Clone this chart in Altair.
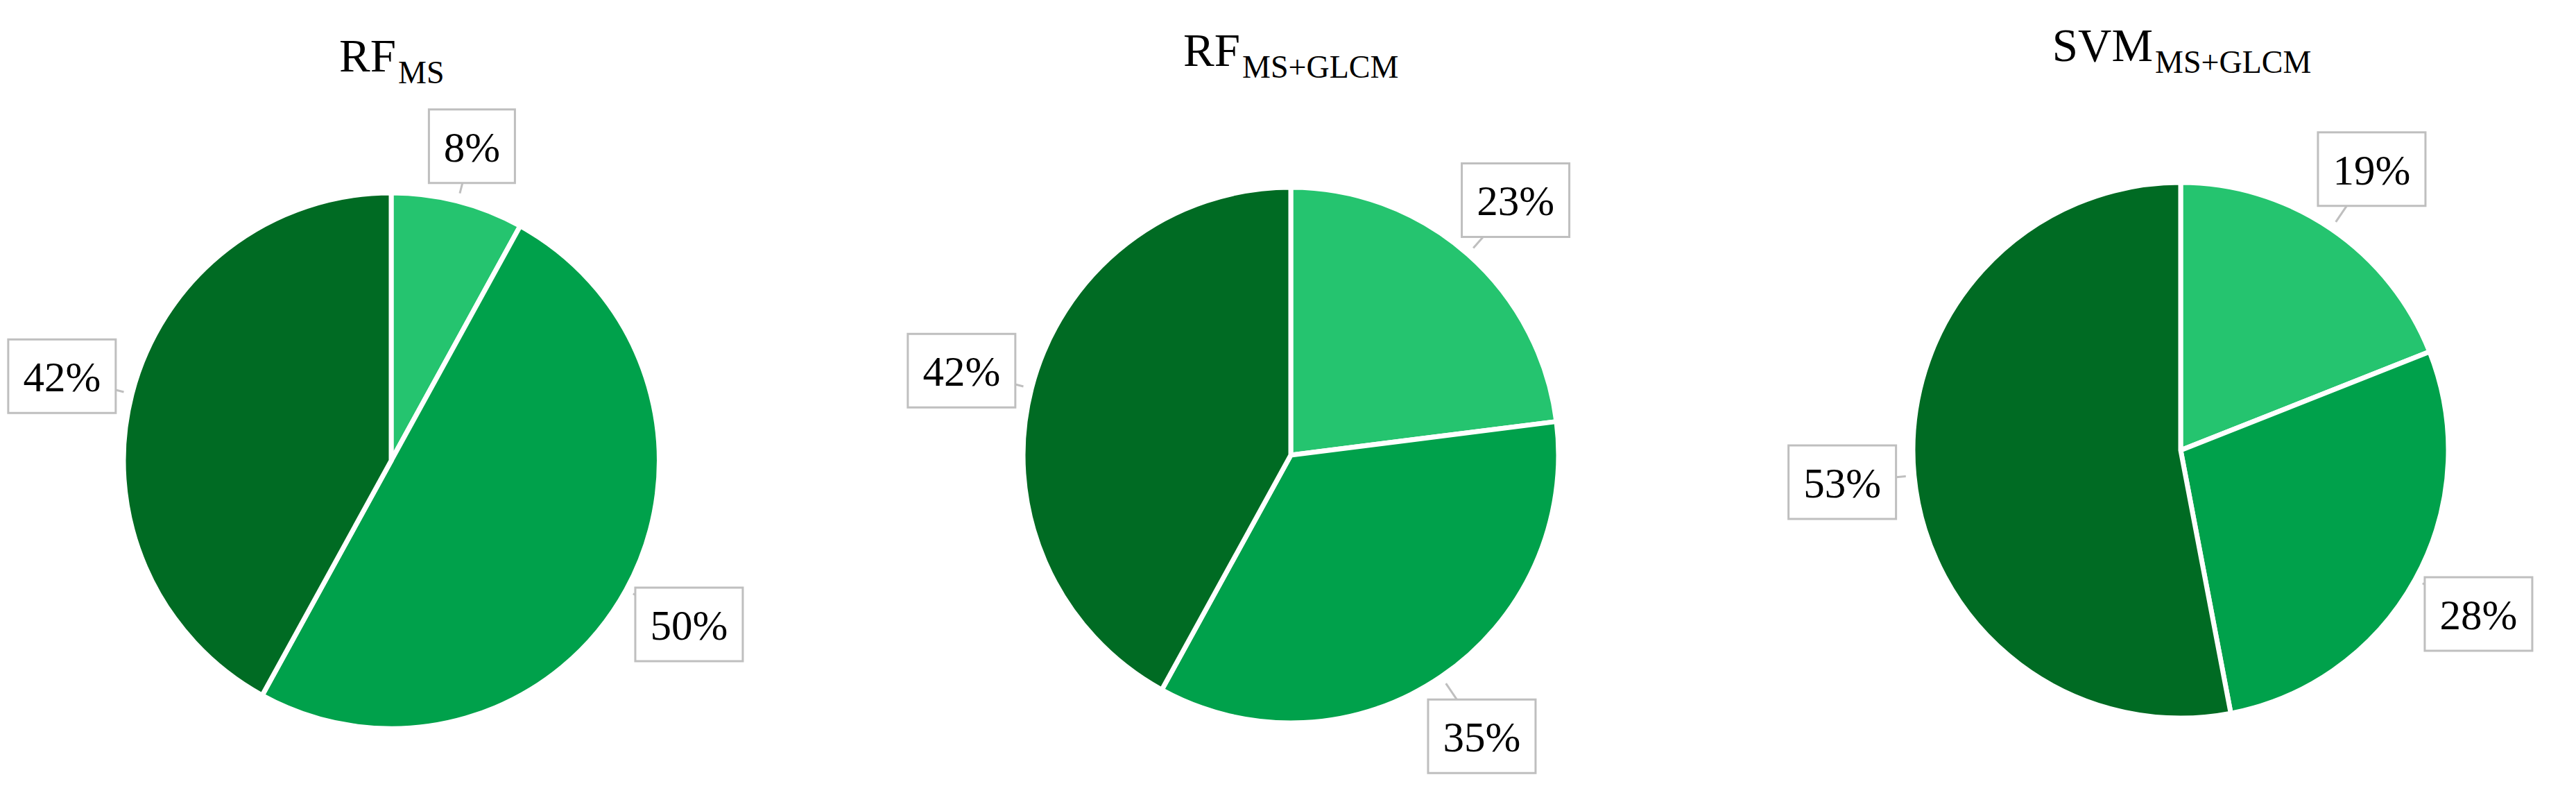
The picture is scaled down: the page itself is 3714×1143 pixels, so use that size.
import altair as alt
import pandas as pd

# ---- data ----
MODELS = ["RF", "RF", "SVM"]
SUBSCRIPTS = ["MS", "MS+GLCM", "MS+GLCM"]
CLASSES = ["Class 1", "Class 2", "Class 3"]
SHARES_RF_MS = [8, 50, 42]
SHARES_RF_MS_GLCM = [23, 35, 42]
SHARES_SVM_MS_GLCM = [19, 28, 53]
SHARES = [SHARES_RF_MS, SHARES_RF_MS_GLCM, SHARES_SVM_MS_GLCM]
COLORS = ["#25C46F", "#00A14B", "#006B23"]

# ---- layout ----
PANEL_W, PANEL_H = 1232, 1127
CX = [556, 621, 672]
CY = [656, 648, 641]
TITLE_SPLIT_DX = [7, -73, -40]
TITLE_ABOVE = 561
PIE_R = 386
TIP_R = 398
BOX_H = 106
FONT = "Liberation Serif"
BOX_STROKE = "#BFBFBF"


def panel(i):
    df = pd.DataFrame({
        "cls": CLASSES,
        "value": SHARES[i],
        "idx": list(range(len(CLASSES))),
    })
    cx, cy = CX[i], CY[i]

    arcs = alt.Chart(df).mark_arc(
        outerRadius=PIE_R, stroke="white", strokeWidth=7
    ).encode(
        theta=alt.Theta("value:Q", stack=True),
        color=alt.Color("cls:N", scale=alt.Scale(domain=CLASSES, range=COLORS), legend=None),
        order=alt.Order("idx:Q"),
        x=alt.value(cx),
        y=alt.value(cy),
    )

    lab = alt.Chart(df).transform_joinaggregate(
        total="sum(value)"
    ).transform_window(
        cum="sum(value)", sort=[alt.SortField("idx")], frame=[None, 0]
    ).transform_calculate(
        mid="2*PI*(datum.cum - datum.value/2)/datum.total"
    ).transform_calculate(
        label="format(datum.value, 'd') + '%'"
    ).transform_calculate(
        bw="62 + 31*length(datum.label)"
    ).transform_calculate(
        lr=f"{PIE_R - 6} + 0.71*datum.bw"
    ).transform_calculate(
        lx=f"{cx} + datum.lr*sin(datum.mid)"
    ).transform_calculate(
        ly=f"{cy} - datum.lr*cos(datum.mid)"
    ).transform_calculate(
        tx=f"{cx} + {TIP_R}*sin(datum.mid)"
    ).transform_calculate(
        ty=f"{cy} - {TIP_R}*cos(datum.mid)"
    ).transform_calculate(
        bx1="datum.lx - datum.bw/2"
    ).transform_calculate(
        bx2="datum.lx + datum.bw/2"
    ).transform_calculate(
        by1=f"datum.ly - {BOX_H/2}"
    ).transform_calculate(
        by2=f"datum.ly + {BOX_H/2}"
    )

    pointer = lab.mark_rule(color=BOX_STROKE, strokeWidth=3).encode(
        x=alt.X("tx:Q", scale=None, axis=None),
        y=alt.Y("ty:Q", scale=None, axis=None),
        x2="lx:Q",
        y2="ly:Q",
    )
    box = lab.mark_rect(fill="white", stroke=BOX_STROKE, strokeWidth=3).encode(
        x=alt.X("bx1:Q", scale=None, axis=None),
        x2="bx2:Q",
        y=alt.Y("by1:Q", scale=None, axis=None),
        y2="by2:Q",
    )
    text = lab.mark_text(font=FONT, fontSize=61, color="black", baseline="middle", align="center", dy=4).encode(
        x=alt.X("lx:Q", scale=None, axis=None),
        y=alt.Y("ly:Q", scale=None, axis=None),
        text="label:N",
    )

    tdf = pd.DataFrame({"main": [MODELS[i]], "sub": [SUBSCRIPTS[i]]})
    split = cx + TITLE_SPLIT_DX[i]
    base_y = cy - TITLE_ABOVE
    t_main = alt.Chart(tdf).mark_text(
        font=FONT, fontSize=67, color="black", align="right", baseline="alphabetic"
    ).encode(text="main:N", x=alt.value(split), y=alt.value(base_y))
    t_sub = alt.Chart(tdf).mark_text(
        font=FONT, fontSize=46, color="black", align="left", baseline="alphabetic"
    ).encode(text="sub:N", x=alt.value(split + 3), y=alt.value(base_y + 17))

    return alt.layer(arcs, pointer, box, text, t_main, t_sub).properties(
        width=PANEL_W, height=PANEL_H
    )


chart = alt.hconcat(*[panel(i) for i in range(3)], spacing=0).properties(
    padding=0, background="white"
).configure_view(strokeWidth=0, stroke="transparent")

chart.save("out.html", embed_options={"renderer": "svg", "actions": False})
